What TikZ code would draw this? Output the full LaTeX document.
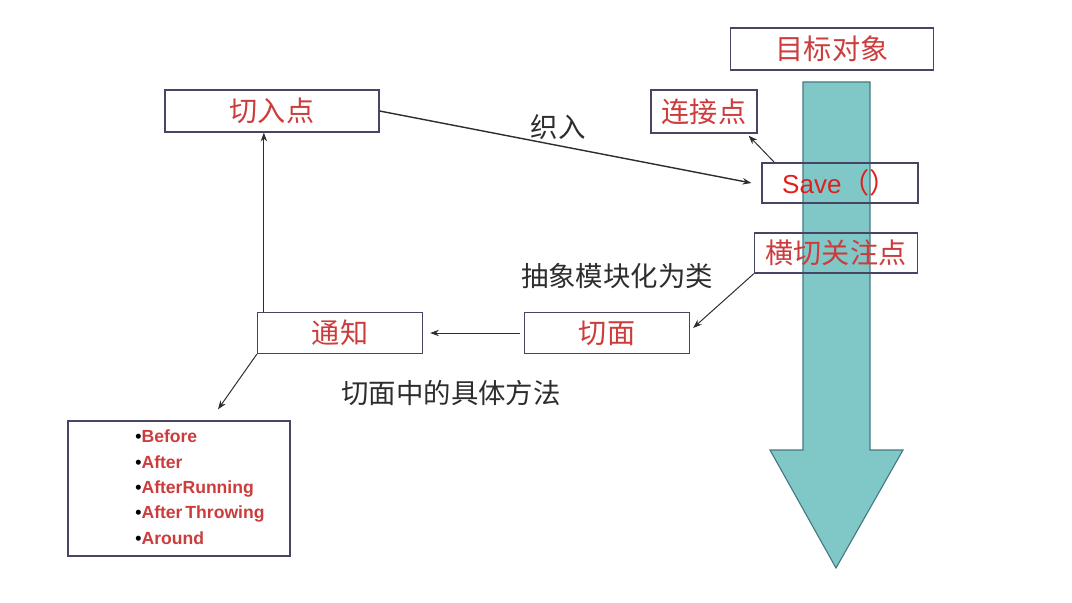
\documentclass[tikz,border=0pt]{standalone}
\usepackage{fontspec}
\setmainfont{Liberation Sans}
\newfontfamily\cjk{Noto Sans CJK SC}
\usetikzlibrary{positioning,arrows.meta,calc}

\definecolor{boxline}{RGB}{70,70,100}
\definecolor{boxred}{RGB}{205,60,60}
\definecolor{saved}{RGB}{225,30,30}
\definecolor{teal}{RGB}{128,200,200}
\definecolor{tealline}{RGB}{70,120,130}
\definecolor{labelgray}{RGB}{45,45,45}
\newdimen\pxu \pxu=0.025cm

\begin{document}
\begin{tikzpicture}[
  x=0.025cm, y=-0.025cm,
  box/.style={rectangle, draw=boxline, line width=0.9pt, text=boxred, inner sep=0pt, font=\cjk\fontsize{20}{22}\selectfont},
  arrow/.style={-{Stealth[length=2.2mm,width=1.6mm]}, draw=labelgray, line width=0.7pt},
  label/.style={text=labelgray, font=\cjk\fontsize{19.5}{22}\selectfont},
]
\useasboundingbox (0,0) rectangle (1072,603);

% === Target object and its flow ===
\draw[fill=teal, draw=tealline, line width=0.8pt]
  (803,82) -- (870,82) -- (870,450) -- (903,450) -- (836,568) -- (770,450) -- (803,450) -- cycle;
\node[box, fill=white, minimum width=203\pxu, minimum height=42\pxu] (mbdx) at (832,49) {目标对象};

% === Boxes ===
\node[box, minimum width=214\pxu, minimum height=42\pxu] (qrd) at (272,111) {切入点};
\node[box, minimum width=106\pxu, minimum height=43\pxu] (ljd) at (704,111.5) {连接点};
\node[box, minimum width=156\pxu, minimum height=40\pxu, text=saved] (save) at (840,183)
  {{\rmfamily\fontsize{18.5}{22}\selectfont Save}（）};
\node[box, minimum width=163\pxu, minimum height=40\pxu] (hqgzd) at (836,253) {横切关注点};
\node[box, minimum width=165\pxu, minimum height=41\pxu] (qm) at (607,333) {切面};
\node[box, minimum width=165\pxu, minimum height=41\pxu] (tz) at (340,333) {通知};
\node[box, minimum width=222\pxu, minimum height=135\pxu, text=black,
      font=\rmfamily\bfseries\fontsize{12.5}{18}\selectfont] (tzlist) at (179,488.5)
  {\hspace*{42\pxu}\begin{tabular}{@{}l@{}}
   •\textcolor{boxred}{Before}\\
   •\textcolor{boxred}{After}\\
   •\textcolor{boxred}{AfterRunning}\\
   •\textcolor{boxred}{After\,Throwing}\\
   •\textcolor{boxred}{Around}
   \end{tabular}};

% === Labels ===
\node[label] (zr) at (558,127) {织入};
\node[label] (cxmk) at (617,276) {抽象模块化为类};
\node[label] (jtff) at (451,393) {切面中的具体方法};

% === Connectors ===
\coordinate (tzup) at ([xshift=7\pxu]tz.north west);
\draw[arrow, line width=1pt] (qrd.east) -- ([xshift=-10\pxu]save.west);
\draw[arrow] ([xshift=13\pxu]save.north west) -- ([xshift=-9\pxu,yshift=-2\pxu]ljd.south east);
\draw[arrow] (hqgzd.south west) -- ([xshift=3\pxu,yshift=5\pxu]qm.east);
\draw[arrow] ([xshift=-4\pxu]qm.west) -- ([xshift=7\pxu]tz.east);
\draw[arrow] (tzup) -- (tzup |- qrd.south);
\draw[arrow] (tz.south west) -- ([xshift=39\pxu,yshift=11\pxu]tzlist.north);

\end{tikzpicture}
\end{document}
